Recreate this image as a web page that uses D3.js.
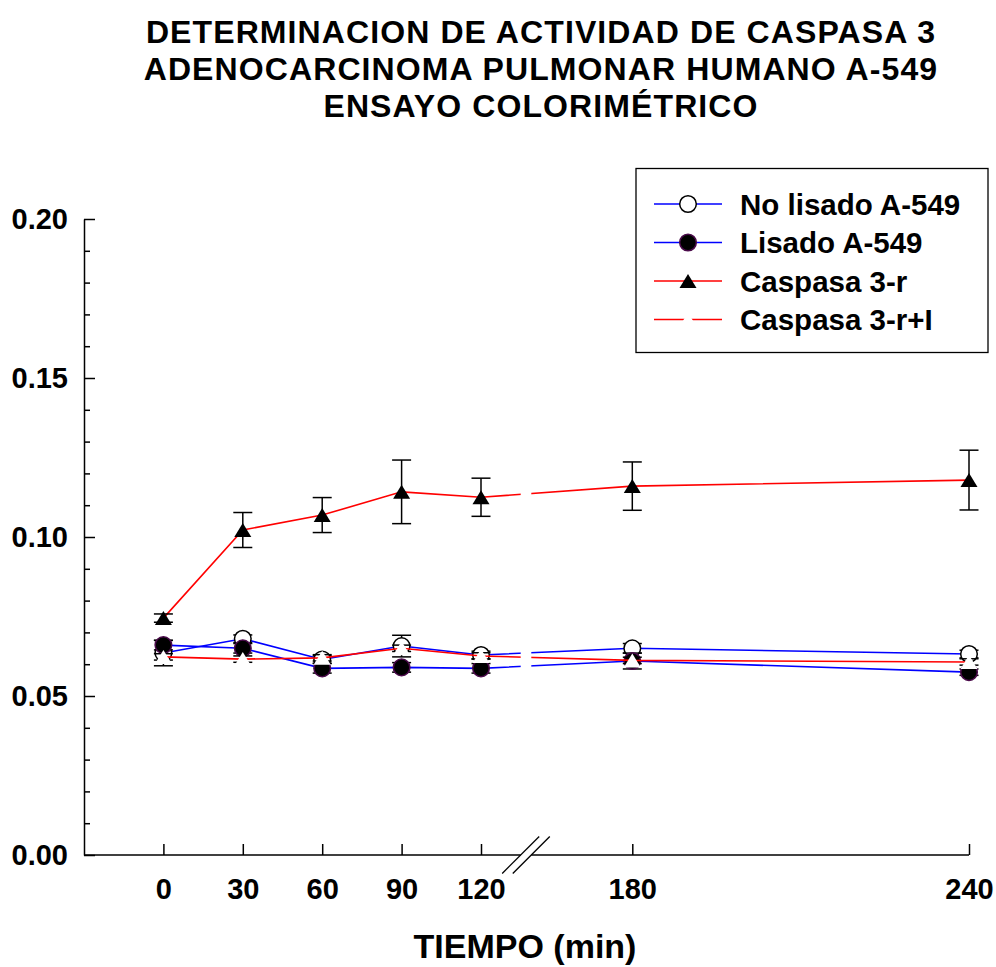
<!DOCTYPE html>
<html>
<head>
<meta charset="utf-8">
<script src="https://cdn.jsdelivr.net/npm/d3@7"></script>
<style>
  html, body { margin: 0; padding: 0; background: #fff; }
  svg { display: block; font-family: "Liberation Sans", Arial, sans-serif; font-weight: bold; }
</style>
</head>
<body>
<script>
// ---------------- data ----------------
const titleLines = ["DETERMINACION DE ACTIVIDAD DE CASPASA 3", "ADENOCARCINOMA PULMONAR HUMANO A-549", "ENSAYO COLORIMÉTRICO"];
const xTitle = "TIEMPO (min)";
const times = [0, 30, 60, 90, 120, 180, 240];
const xTicksLeft = [0, 30, 60, 90, 120];
const xTicksRight = [180, 240];
const yTicksMajor = [0, 0.05, 0.10, 0.15, 0.20];
const yTicksMinor = [0.01, 0.02, 0.03, 0.04, 0.06, 0.07, 0.08, 0.09, 0.11, 0.12, 0.13, 0.14, 0.16, 0.17, 0.18, 0.19];

const seriesNames = ["No lisado A-549", "Lisado A-549", "Caspasa 3-r", "Caspasa 3-r+I"];
const noLisado     = [0.0635, 0.0680, 0.0615, 0.0657, 0.0629, 0.0650, 0.0632];
const noLisadoErr  = [0.0040, 0.0012, 0.0012, 0.0034, 0.0012, 0.0015, 0.0012];
const lisado       = [0.0660, 0.0650, 0.0587, 0.0590, 0.0587, 0.0610, 0.0575];
const lisadoErr    = [0.0015, 0.0015, 0.0015, 0.0015, 0.0015, 0.0025, 0.0010];
const caspasa      = [0.0745, 0.1022, 0.1069, 0.1142, 0.1125, 0.1160, 0.1179];
const caspasaErr   = [0.0013, 0.0055, 0.0055, 0.0100, 0.0060, 0.0076, 0.0094];
const caspasaI     = [0.0623, 0.0616, 0.0620, 0.0650, 0.0626, 0.0612, 0.0607];
const caspasaIErr  = [0.0010, 0.0010, 0.0010, 0.0010, 0.0010, 0.0010, 0.0010];

// ---------------- layout ----------------
const W = 996, H = 967;
const svg = d3.select("body").append("svg").attr("width", W).attr("height", H);

// broken x axis: two linear pieces
const xa = d3.scaleLinear().domain([-30, 120]).range([84, 481]);
const xb = d3.scaleLinear().domain([180, 240]).range([632.3, 969]);
const breakLeft = xa(135), breakRight = xb(162);
const x = t => (t <= 120 ? xa(t) : xb(t));
const y = d3.scaleLinear().domain([0, 0.20]).range([855, 219]);
const y0 = y(0);
const FONT = "Liberation Sans, Arial, sans-serif";

// title
titleLines.forEach((t, i) => {
  svg.append("text").attr("x", 541).attr("y", 43 + i * 37)
    .attr("text-anchor", "middle").attr("font-size", 32)
    .attr("letter-spacing", 1.1).text(t);
});

// y axis
const gy = svg.append("g").attr("transform", `translate(84,0)`)
  .call(d3.axisLeft(y).tickValues(yTicksMajor).tickSizeInner(-11).tickSizeOuter(0)
    .tickPadding(16).tickFormat(d3.format(".2f")));
gy.select(".domain").attr("stroke-width", 1.5);
gy.selectAll(".tick line").attr("stroke-width", 1.5);
gy.selectAll("text").attr("font-size", 29).attr("font-family", FONT).attr("font-weight", "bold").attr("fill", "#000");
const gym = svg.append("g").attr("transform", `translate(84,0)`)
  .call(d3.axisLeft(y).tickValues(yTicksMinor).tickSizeInner(-6).tickSizeOuter(0).tickFormat(""));
gym.select(".domain").remove();
gym.selectAll(".tick line").attr("stroke-width", 1.5);

// x axis pieces
function styleX(g) {
  g.select(".domain").remove();
  g.selectAll(".tick line").attr("stroke-width", 1.5);
  g.selectAll("text").attr("font-size", 29).attr("font-family", FONT).attr("font-weight", "bold").attr("fill", "#000");
}
svg.append("g").attr("transform", `translate(0,${y0})`)
  .call(d3.axisBottom(xa).tickValues(xTicksLeft).tickSizeInner(-11).tickSizeOuter(0).tickPadding(23))
  .call(styleX);
svg.append("g").attr("transform", `translate(0,${y0})`)
  .call(d3.axisBottom(xb).tickValues(xTicksRight).tickSizeInner(-11).tickSizeOuter(0).tickPadding(23))
  .call(styleX);
// axis lines with break
svg.append("line").attr("x1", 84).attr("x2", breakLeft).attr("y1", y0).attr("y2", y0).attr("stroke", "#000").attr("stroke-width", 1.5);
svg.append("line").attr("x1", breakRight).attr("x2", 969).attr("y1", y0).attr("y2", y0).attr("stroke", "#000").attr("stroke-width", 1.5);
[breakLeft, breakRight].forEach(bx => {
  svg.append("line").attr("x1", bx - 18.5).attr("y1", y0 + 18.5).attr("x2", bx + 18.5).attr("y2", y0 - 18.5)
    .attr("stroke", "#000").attr("stroke-width", 1.3);
});

// x title
svg.append("text").attr("x", 525).attr("y", 958).attr("text-anchor", "middle").attr("font-size", 34).text(xTitle);

// clip for broken lines
const defs = svg.append("defs");
const cp = defs.append("clipPath").attr("id", "brk");
cp.append("rect").attr("x", 0).attr("y", 0).attr("width", breakLeft).attr("height", H);
cp.append("rect").attr("x", breakRight).attr("y", 0).attr("width", W - breakRight).attr("height", H);

// symbols
const triPath = "M0,-7 L8.5,7 L-8.5,7 Z";
const series = [
  { name: seriesNames[0], vals: noLisado, err: noLisadoErr, color: "#0000ff", sym: "circle", fill: "#fff", stroke: "#000" },
  { name: seriesNames[1], vals: lisado, err: lisadoErr, color: "#0000ff", sym: "circle", fill: "#000", stroke: "#4a0a4a" },
  { name: seriesNames[2], vals: caspasa, err: caspasaErr, color: "#ff0000", sym: "tri", fill: "#000", stroke: "none" },
  { name: seriesNames[3], vals: caspasaI, err: caspasaIErr, color: "#ff0000", sym: "tri", fill: "#fff", stroke: "none" }
];

function drawSymbol(g, s, cx, cy) {
  if (s.sym === "circle") {
    g.append("circle").attr("cx", cx).attr("cy", cy).attr("r", 8.3)
      .attr("fill", s.fill).attr("stroke", s.stroke).attr("stroke-width", 1.5);
  } else {
    g.append("path").attr("d", triPath).attr("transform", `translate(${cx},${cy})`)
      .attr("fill", s.fill).attr("stroke", s.stroke);
  }
}

const line = d3.line().x((d, i) => x(times[i])).y(d => y(d));
const plot = svg.append("g");
series.forEach(s => {
  const g = plot.append("g");
  g.append("path").datum(s.vals).attr("d", line).attr("fill", "none")
    .attr("stroke", s.color).attr("stroke-width", 1.6).attr("clip-path", "url(#brk)");
  s.vals.forEach((v, i) => {
    const cx = x(times[i]);
    const yt = y(v + s.err[i]), yb = y(v - s.err[i]);
    g.append("line").attr("x1", cx).attr("x2", cx).attr("y1", yt).attr("y2", yb).attr("stroke", "#000").attr("stroke-width", 1.5);
    [yt, yb].forEach(yy => g.append("line").attr("x1", cx - 9.5).attr("x2", cx + 9.5).attr("y1", yy).attr("y2", yy).attr("stroke", "#000").attr("stroke-width", 1.5));
  });
  s.vals.forEach((v, i) => drawSymbol(g, s, x(times[i]), y(v)));
});

// legend
const lg = svg.append("g");
lg.append("rect").attr("x", 636).attr("y", 168.5).attr("width", 352).attr("height", 184)
  .attr("fill", "#fff").attr("stroke", "#000").attr("stroke-width", 1.3);
series.forEach((s, i) => {
  const ly = 204 + i * 38.5;
  lg.append("line").attr("x1", 654).attr("x2", 722).attr("y1", ly).attr("y2", ly)
    .attr("stroke", s.color).attr("stroke-width", 1.6);
  drawSymbol(lg, s, 688, ly);
  lg.append("text").attr("x", 740).attr("y", ly + 10.5).attr("font-size", 29.5).text(s.name);
});
</script>
</body>
</html>
